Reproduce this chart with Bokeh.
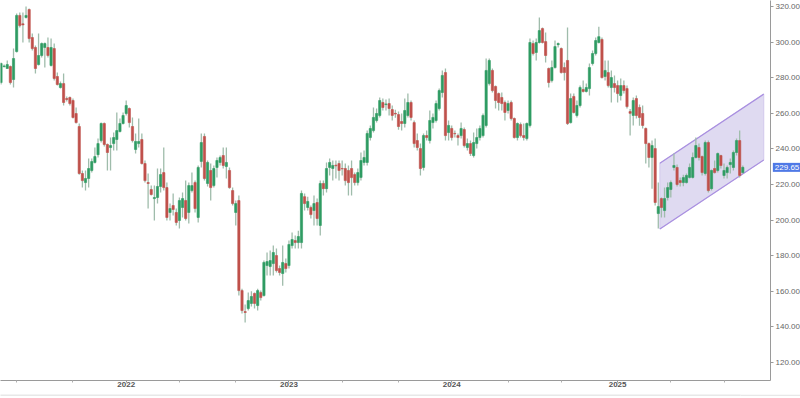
import numpy as np
import pandas as pd
from bokeh.plotting import figure
from bokeh.layouts import column
from bokeh.models import Range1d, FixedTicker, NumeralTickFormatter, Label, ColumnDataSource
from bokeh.embed import file_html
from bokeh.resources import INLINE
from bokeh.core.properties import value

# ---------------- data (weekly candles) ----------------
first_week = "2021-03-29"

opens = [277.3, 286.3, 285.2, 286.3, 279.0, 294.7, 315.0, 310.3, 313.9, 318.3,
         302.6, 297.0, 287.4, 292.5, 297.0, 297.0, 286.9, 296.4, 280.7, 274.5,
         276.7, 268.3, 268.9, 267.2, 259.9, 252.6, 226.2, 221.1, 223.4, 227.9,
         232.4, 236.8, 244.7, 254.3, 242.5, 240.8, 243.0, 245.3, 249.8, 254.3,
         259.9, 262.7, 252.6, 239.7, 243.0, 245.3, 231.8, 221.1, 217.2, 212.1,
         212.7, 218.9, 226.7, 218.3, 204.3, 208.2, 204.3, 199.8, 207.1, 211.0,
         204.3, 216.6, 221.1, 201.5, 233.0, 247.0, 220.6, 227.9, 219.4, 229.6,
         232.4, 236.3, 230.1, 227.9, 216.6, 204.3, 211.0, 160.4, 148.6, 150.3,
         153.2, 158.8, 152.0, 159.3, 157.6, 174.5, 173.9, 175.6, 180.1, 172.8,
         170.0, 175.6, 174.5, 185.7, 188.5, 187.4, 187.4, 213.2, 207.1, 207.1,
         205.4, 209.9, 197.0, 220.6, 217.7, 229.6, 229.0, 230.9, 231.8, 229.0,
         229.0, 227.9, 229.0, 225.6, 221.1, 224.0, 232.4, 232.4, 246.4, 250.3,
         256.0, 258.8, 266.1, 264.9, 265.5, 262.1, 260.0, 259.3, 255.4, 254.3,
         258.8, 266.1, 254.8, 244.7, 240.2, 229.6, 247.5, 244.7, 254.8, 256.0,
         262.7, 271.7, 282.9, 249.2, 251.5, 248.7, 247.5, 247.5, 250.9, 240.8,
         243.0, 236.3, 243.0, 246.4, 247.5, 253.2, 276.7, 284.1, 275.1, 271.1,
         268.9, 266.1, 261.6, 266.1, 257.1, 246.4, 253.7, 247.5, 245.8, 253.2,
         299.2, 294.2, 299.8, 307.6, 300.3, 285.2, 278.4, 285.7, 298.6, 296.4,
         285.7, 289.7, 254.8, 269.5, 258.8, 264.4, 273.4, 272.3, 273.9, 288.0,
         293.6, 299.8, 301.5, 280.7, 282.9, 274.5, 276.7, 275.6, 270.0, 275.6,
         273.9, 261.0, 258.8, 268.3, 263.3, 259.9, 251.5, 243.0, 235.2, 240.2,
         203.7, 212.1, 205.4, 212.7, 217.2, 229.6, 229.6, 222.2, 221.1, 221.1,
         224.0, 224.0, 235.2, 240.8, 235.7, 226.2, 243.6, 217.7, 229.0, 227.9,
         236.3, 225.1, 226.7, 231.2, 229.6, 238.0, 244.7, 226.7]

highs = [288.5, 287.4, 289.7, 286.9, 296.4, 316.1, 316.7, 316.7, 320.0, 318.9,
         304.8, 298.1, 304.8, 299.8, 299.8, 302.6, 302.0, 299.2, 282.9, 277.9,
         282.4, 269.5, 269.5, 268.3, 263.3, 254.3, 227.9, 227.9, 234.6, 234.6,
         240.8, 245.8, 254.8, 254.8, 243.0, 246.4, 249.2, 260.5, 257.1, 260.5,
         267.2, 263.3, 257.7, 248.7, 257.1, 248.7, 233.5, 226.2, 219.4, 219.4,
         229.0, 229.0, 240.8, 221.1, 209.3, 214.9, 206.5, 212.7, 215.5, 222.2,
         221.1, 226.7, 222.2, 230.7, 248.7, 248.7, 233.5, 231.8, 230.7, 235.2,
         236.3, 240.8, 240.8, 229.6, 218.3, 211.0, 213.8, 161.5, 152.6, 159.3,
         160.0, 159.3, 161.5, 160.4, 177.3, 181.8, 182.9, 185.7, 184.0, 174.5,
         185.7, 178.4, 188.5, 193.0, 191.3, 194.1, 216.6, 214.9, 213.2, 208.2,
         213.8, 212.1, 222.2, 222.2, 232.4, 234.6, 233.5, 233.5, 233.5, 233.5,
         231.8, 230.7, 233.5, 226.7, 229.0, 238.0, 239.1, 250.3, 253.2, 263.3,
         262.7, 268.9, 268.3, 267.8, 268.3, 264.4, 262.0, 261.0, 259.9, 268.3,
         271.1, 267.2, 256.0, 248.7, 243.0, 248.7, 250.3, 261.6, 259.9, 267.2,
         273.9, 284.1, 285.2, 256.0, 253.2, 250.3, 248.7, 254.8, 252.0, 245.8,
         244.7, 249.2, 251.5, 253.2, 259.9, 290.8, 290.8, 285.2, 275.6, 271.7,
         271.7, 267.2, 267.2, 267.2, 257.7, 254.8, 254.8, 254.3, 254.8, 302.0,
         300.9, 302.0, 313.9, 308.2, 305.4, 285.7, 289.7, 300.9, 299.8, 297.0,
         288.5, 308.2, 271.1, 271.1, 267.2, 275.6, 278.4, 276.7, 288.0, 295.3,
         302.6, 308.7, 302.6, 289.7, 289.7, 284.1, 281.3, 278.4, 279.6, 278.4,
         275.6, 262.5, 268.9, 270.0, 265.0, 264.4, 252.0, 243.6, 244.7, 245.8,
         221.1, 212.7, 218.3, 221.1, 222.2, 237.4, 231.2, 223.9, 225.5, 226.2,
         231.8, 238.0, 246.4, 243.0, 236.3, 244.7, 244.7, 228.4, 233.5, 238.0,
         236.8, 231.8, 230.7, 234.6, 239.1, 245.8, 250.3, 230.7]

lows = [276.2, 285.7, 285.2, 276.2, 274.5, 294.2, 308.2, 299.8, 313.3, 299.8,
        295.3, 282.4, 286.9, 291.4, 285.7, 291.4, 286.3, 278.4, 275.6, 273.9,
        264.4, 266.6, 264.4, 257.1, 254.3, 225.5, 218.3, 216.6, 218.3, 226.7,
        231.8, 235.2, 243.6, 241.4, 227.9, 227.9, 239.1, 239.1, 249.2, 253.7,
        258.8, 252.0, 243.6, 237.4, 240.8, 231.2, 221.1, 206.5, 213.8, 199.8,
        209.3, 215.5, 216.6, 199.8, 199.8, 202.6, 197.0, 195.3, 201.5, 199.8,
        198.1, 215.5, 204.3, 198.7, 229.6, 222.2, 218.9, 211.0, 218.3, 224.0,
        230.7, 229.0, 223.4, 217.7, 208.2, 197.0, 157.6, 147.5, 142.5, 149.2,
        151.5, 150.3, 149.2, 154.8, 157.1, 168.9, 168.9, 168.9, 170.6, 168.9,
        163.2, 170.6, 172.8, 184.0, 184.0, 184.0, 184.0, 205.4, 205.4, 200.9,
        197.0, 197.0, 191.3, 213.8, 215.5, 225.1, 222.2, 223.4, 222.2, 225.1,
        219.4, 213.8, 213.8, 219.4, 219.4, 222.2, 230.7, 230.7, 244.7, 249.2,
        254.8, 257.7, 261.6, 261.6, 258.8, 256.0, 257.5, 250.8, 250.3, 252.0,
        257.7, 256.0, 240.8, 239.1, 225.1, 227.9, 244.7, 243.0, 251.5, 254.8,
        261.6, 268.9, 244.7, 244.7, 244.7, 246.4, 241.9, 245.8, 240.8, 239.1,
        236.0, 235.2, 240.2, 244.7, 246.4, 252.0, 275.6, 271.7, 262.7, 261.6,
        261.6, 256.0, 259.9, 256.0, 245.8, 244.7, 246.4, 244.7, 244.7, 252.0,
        292.5, 289.7, 299.2, 299.2, 288.5, 274.5, 277.3, 285.2, 297.0, 282.4,
        278.4, 253.5, 254.3, 259.9, 257.7, 263.3, 271.7, 271.7, 270.0, 286.9,
        292.5, 299.2, 279.6, 278.4, 274.5, 266.1, 271.7, 266.1, 267.2, 271.1,
        262.7, 247.5, 253.2, 257.1, 253.0, 251.5, 231.8, 229.6, 217.7, 208.2,
        195.3, 201.5, 201.5, 211.0, 212.7, 227.9, 218.9, 218.9, 219.0, 220.6,
        223.4, 223.4, 234.6, 233.5, 225.1, 225.1, 215.5, 216.6, 226.2, 226.7,
        229.0, 223.4, 223.4, 226.2, 227.9, 236.3, 223.9, 226.2]

closes = [288.0, 286.6, 287.4, 277.3, 290.8, 315.0, 309.3, 309.7, 315.0, 302.0,
          296.4, 285.2, 292.5, 299.2, 299.2, 292.5, 297.0, 279.6, 276.2, 276.7,
          266.1, 267.8, 265.5, 257.7, 254.8, 226.2, 222.2, 223.4, 229.0, 232.9,
          235.7, 243.0, 254.3, 242.5, 238.0, 241.9, 246.4, 250.3, 254.3, 258.8,
          264.4, 254.8, 244.7, 244.2, 244.2, 231.8, 222.2, 220.6, 214.4, 212.7,
          218.9, 225.6, 218.3, 201.5, 206.5, 206.0, 198.7, 211.0, 212.1, 200.9,
          219.4, 219.4, 206.5, 229.6, 243.6, 223.4, 232.4, 218.3, 229.0, 233.5,
          235.2, 230.7, 232.4, 218.3, 209.3, 209.3, 160.4, 149.2, 148.1, 154.8,
          157.1, 153.2, 160.4, 156.5, 176.2, 176.7, 177.3, 181.8, 171.7, 170.6,
          176.2, 172.8, 186.3, 189.1, 187.4, 190.8, 215.0, 209.3, 210.5, 203.1,
          209.3, 200.9, 220.6, 217.7, 229.0, 232.4, 230.7, 230.5, 227.9, 228.8,
          222.2, 221.1, 223.9, 221.1, 226.7, 233.5, 235.2, 248.7, 251.5, 257.7,
          259.9, 267.2, 263.3, 265.3, 262.7, 258.8, 259.6, 252.6, 254.3, 261.6,
          266.1, 257.7, 243.0, 240.8, 229.0, 247.5, 246.4, 256.0, 257.7, 265.5,
          272.8, 281.3, 247.5, 253.2, 246.4, 248.5, 246.4, 251.5, 241.9, 243.0,
          237.4, 243.6, 246.4, 251.5, 258.8, 284.1, 289.7, 272.8, 267.2, 266.1,
          265.5, 260.5, 265.5, 257.1, 246.4, 254.3, 247.5, 246.4, 254.3, 299.8,
          293.6, 299.8, 306.5, 299.8, 292.5, 277.3, 285.7, 297.5, 299.2, 282.9,
          282.9, 254.3, 268.3, 260.5, 264.4, 274.5, 272.3, 274.5, 285.7, 293.6,
          300.9, 303.1, 280.1, 284.1, 275.6, 280.1, 274.5, 271.1, 275.6, 272.8,
          263.8, 260.0, 267.2, 258.8, 257.7, 253.2, 243.0, 235.2, 241.9, 209.9,
          207.6, 207.1, 212.1, 218.3, 221.1, 230.7, 220.0, 221.1, 223.9, 225.1,
          229.6, 235.2, 241.9, 235.2, 226.7, 243.6, 216.6, 227.9, 226.7, 237.4,
          230.7, 227.9, 229.6, 232.4, 238.0, 244.7, 225.1, 229.65]

year_labels = ["2022", "2023", "2024", "2025"]
price_ticks = [120, 140, 160, 180, 200, 220, 240, 260, 280, 300, 320]

# rising channel drawn on the chart (anchor weeks as candle positions, prices)
channel_idx = [210.5, 243.7]
channel_lower = [195.0, 233.8]
channel_upper = [232.0, 270.8]

# ---------------- derived ----------------
n = len(closes)
dates = pd.date_range(first_week, periods=n, freq="7D")
idx = np.arange(n)
o = np.array(opens); c = np.array(closes)
up = c >= o
GREEN, RED = "#2f9c63", "#c0504b"
src = ColumnDataSource(dict(
    x=idx, top=np.maximum(o, c), bottom=np.minimum(o, c),
    high=np.array(highs), low=np.array(lows),
    color=[GREEN if u else RED for u in up]))

year_idx = [int(np.argmax(dates.year == int(y))) for y in year_labels]
minor_idx = [i for i in range(1, n)
             if dates[i].month in (5, 9) and dates[i - 1].month != dates[i].month]

FONT = "Liberation Sans"

p = figure(frame_width=770, frame_height=380,
           x_range=Range1d(-0.16, 245.85), y_range=Range1d(109.9, 323.4),
           y_axis_location="right", output_backend="svg", toolbar_location=None,
           min_border=0)
p.grid.visible = False
p.outline_line_color = None
p.background_fill_color = "white"

# channel
p.patch(x=[channel_idx[0], channel_idx[1], channel_idx[1], channel_idx[0]],
        y=[channel_lower[0], channel_lower[1], channel_upper[1], channel_upper[0]],
        fill_color="#d9d3ef", fill_alpha=0.85, line_color="#cdc2ea", line_width=0.8)
p.line(x=channel_idx, y=channel_lower, line_color="#a98fe0", line_width=1.2)
p.line(x=channel_idx, y=channel_upper, line_color="#a98fe0", line_width=1.2)

# candles
p.segment(x0="x", y0="low", x1="x", y1="high", source=src,
          line_color="#9fbcab", line_width=1.3)
p.vbar(x="x", width=0.72, top="top", bottom="bottom", source=src,
       fill_color="color", line_color="color", line_width=0.6)

# axes
ya = p.yaxis[0]
ya.ticker = FixedTicker(ticks=price_ticks)
ya.formatter = NumeralTickFormatter(format="0.00")
ya.major_label_text_font = FONT
ya.major_label_text_font_size = "8px"
ya.major_label_text_color = "#666666"
ya.axis_line_color = "#9a9a9a"
ya.major_tick_line_color = "#9a9a9a"
ya.major_tick_in = 0
ya.major_tick_out = 3
ya.minor_tick_line_color = None
ya.major_label_standoff = 2

xa = p.xaxis[0]
xa.ticker = FixedTicker(ticks=year_idx, minor_ticks=minor_idx)
xa.major_label_overrides = {int(i): lab for i, lab in zip(year_idx, year_labels)}
xa.major_label_text_font = FONT
xa.major_label_text_font_size = "8px"
xa.major_label_text_font_style = "bold"
xa.major_label_text_color = "#555555"
xa.axis_line_color = "#9a9a9a"
xa.major_tick_line_color = "#9a9a9a"
xa.minor_tick_line_color = "#b0b0b0"
xa.major_tick_in = 0
xa.major_tick_out = 2
xa.minor_tick_in = 0
xa.minor_tick_out = 2
xa.major_label_standoff = -1

# last price tag (placed in the right panel so it is not clipped to the frame)
p.add_layout(Label(x=246.6, y=closes[-1], text=f"{closes[-1]:.2f}",
                   text_align="left", text_baseline="middle",
                   text_color="white", text_font=FONT, text_font_size="8px",
                   background_fill_color="#4f79e6", padding=2), "right")

# bottom status strip
band = figure(width=800, height=7, x_range=Range1d(0, 800), y_range=Range1d(0, 7),
              output_backend="svg", toolbar_location=None, min_border=0)
band.axis.visible = False
band.grid.visible = False
band.outline_line_color = None
band.background_fill_color = "#e8e8e8"
band.border_fill_color = "#e8e8e8"
band.text(x=[640, 712, 728, 748], y=[3.5, 3.5, 3.5, 3.5],
          text=["00:10:00 (UTC-3)", "%", "log", "auto"],
          text_baseline="middle", text_align="left",
          text_font=value(FONT), text_font_size="4.5px",
          text_color=["#777777", "#777777", "#777777", "#4a7bd8"])

layout = column(p, band, spacing=0)
open("out.html", "w").write(file_html(layout, INLINE))
